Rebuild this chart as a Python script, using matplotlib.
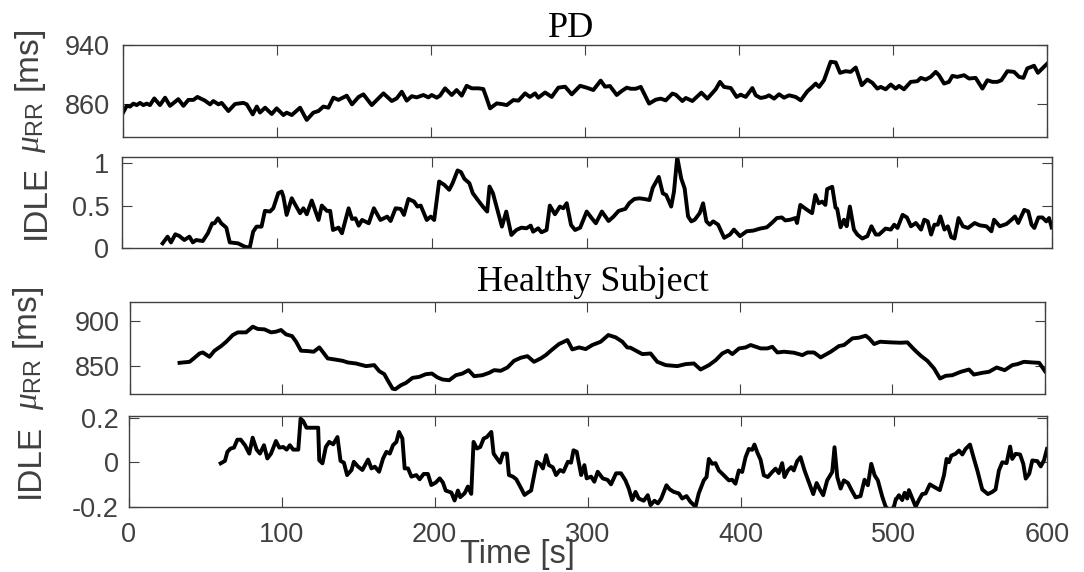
import matplotlib
matplotlib.use('Agg')
import matplotlib.pyplot as plt

plt.rcParams['font.family'] = ['Liberation Sans', 'DejaVu Sans']
plt.rcParams['axes.unicode_minus'] = False
plt.rcParams['mathtext.fontset'] = 'custom'
plt.rcParams['mathtext.rm'] = 'Liberation Sans'
plt.rcParams['mathtext.it'] = 'Liberation Serif:italic'

# PD subject, mean RR [ms]
t_pd_rr = [0, 2.6, 4.8, 6.9, 9.1, 11.2, 13.4, 15.6, 17.7, 20.5,
           24.2, 27.5, 30.7, 36.1, 39.4, 42.6, 45.9, 48.5, 53.4, 56.7,
           58.8, 62.1, 64.2, 68.6, 72.9, 78.3, 80.5, 84.4, 87, 89.1,
           92.4, 96.7, 99.9, 104.3, 106.4, 109.7, 115.1, 119.4, 123.7, 127,
           130.2, 133.5, 136.7, 140, 145.4, 148.8, 153.1, 156.2, 161.6, 165.9,
           169.2, 174.6, 177.8, 181.1, 184.3, 187.6, 190.8, 195.1, 198.4, 200.5,
           203.8, 205.9, 209.2, 213.5, 216.7, 220, 223.2, 226.5, 230.8, 234,
           236.2, 238.4, 242.7, 245.9, 249.2, 253.5, 256.8, 261.1, 264.3, 267.6,
           269.7, 274.1, 278.4, 282.7, 287.1, 291.4, 296.8, 301.1, 305.4, 310.2,
           313, 316.2, 320.6, 323.8, 327.1, 329.7, 332.9, 336.2, 341.6, 345.9,
           349.1, 352.4, 356.7, 358.9, 363.2, 365.4, 369.7, 375.5, 379.4, 384.8,
           387.6, 390.2, 394.6, 398.4, 401, 404.3, 408.6, 410.8, 414, 417.3,
           419.4, 422.7, 425.9, 429.2, 432.4, 436.7, 440, 444.3, 447.5, 449.7,
           451.9, 455.1, 459.4, 462.7, 465.5, 469.2, 472.4, 475.7, 479.6, 483.2,
           486.5, 489.7, 491.9, 495.1, 498.4, 501.6, 503.8, 507, 511.4, 515.7,
           517.9, 521.1, 524.3, 527.6, 529.7, 533, 536.2, 538.4, 541.6, 546,
           549.2, 553.5, 557.9, 561.1, 564.4, 567.6, 570.2, 574.1, 578.4, 581.7,
           584.5, 587, 591.4, 593.9, 596.8, 600]
pd_rr = [847.9, 858, 857, 861, 859, 862, 859, 861, 859, 868,
         859, 869, 858, 867, 858, 866, 866, 870, 865, 860,
         864.5, 860, 862, 851, 860.5, 862, 860, 846.5, 857, 849,
         855.5, 847, 854.6, 845.6, 848.8, 845.6, 855.5, 839, 848.8, 851,
         857, 855.5, 869, 866, 871.7, 860, 870, 873.5, 859, 868,
         874.8, 864.5, 868, 877, 865, 871, 869.4, 872.6, 869.4, 872.6,
         869, 871.7, 881.6, 872.6, 879.3, 871.7, 885, 881.6, 881.6, 880.7,
         868, 854.6, 861.3, 860.4, 859, 865.8, 865, 874.8, 870, 874.8,
         869, 876, 870, 882.5, 883.8, 873.5, 885, 882.5, 879.3, 892,
         883.8, 884.7, 872.6, 878, 882.5, 881, 881, 883.5, 861, 866.3,
         867.7, 865.4, 874.5, 873, 864.5, 868.6, 864.5, 875.8, 867.7, 880.3,
         890.3, 883.5, 882, 870, 873, 870, 882, 872.2, 868.6, 870,
         872.2, 867.7, 873.6, 869, 872.2, 870, 865.4, 877.6, 883.5, 888,
         883.5, 892.5, 917.4, 916.5, 902.5, 904.7, 903.8, 909.7, 885.8, 893.4,
         889, 881.2, 883.5, 880.3, 886.7, 881.2, 884.9, 880.3, 890.3, 891.2,
         895.7, 893.4, 897, 903.8, 899.3, 888, 890.3, 898.4, 897, 899.3,
         894.8, 895.7, 881.2, 892.5, 890.3, 890.3, 892.5, 904.7, 903.8, 897,
         895.7, 908.4, 912, 902.5, 908.4, 915]

# PD subject, IDLE
t_pd_idle = [26.4, 29.6, 31.8, 34.6, 37.2, 40.4, 43.7, 45.9, 48, 52.3,
             55.6, 58.4, 59.9, 62.1, 64.2, 67.5, 69.7, 75, 79.4, 82.6,
             84.8, 87, 90.2, 92.4, 95.6, 97.8, 101, 103.2, 104.3, 106.4,
             109.7, 111.8, 115.1, 117.2, 119.4, 122.6, 127, 129.1, 132.4, 134.5,
             136.3, 139.9, 142.1, 146.4, 148.6, 150.8, 152.9, 155.1, 159.4, 162.7,
             166.9, 171.3, 173.5, 176.7, 180, 182.1, 185, 188.6, 190.8, 192.9,
             196.8, 199.4, 201.6, 204.8, 208.1, 211.3, 213.5, 216.7, 218.9, 221.1,
             224.3, 226.5, 229.7, 233, 235.8, 237.3, 239.5, 242.7, 245.3, 248.1,
             251.4, 254.6, 257.9, 261.1, 263.9, 265.4, 268.7, 270.8, 274.1, 276.2,
             279.5, 282.7, 284.9, 287.1, 289.9, 292.5, 295.8, 300, 303.3, 305.9,
             309.8, 314.1, 317.3, 320.6, 324.9, 327.5, 330.7, 334, 337.2, 340.5,
             342.6, 346.5, 349.1, 351.3, 354.5, 356.3, 358.4, 361, 363.2, 365.4,
             367.5, 369.7, 372.9, 375.1, 377.2, 379.4, 381.6, 384.8, 388.7, 392.4,
             395, 398.9, 403.2, 407.5, 411.9, 416.2, 419.4, 422.7, 425.9, 428.1,
             431.3, 434.6, 435.7, 437.8, 442.2, 445.4, 447.5, 449.7, 451.9, 454,
             455.1, 458.4, 460.5, 461.6, 463.8, 466, 467.7, 469.8, 472.4, 474.6,
             477.8, 481.1, 483.7, 486.5, 488.6, 492.8, 496.2, 498.4, 500.5, 503.8,
             506.6, 509.2, 512.4, 515.7, 517.8, 520, 522.2, 524.3, 526.5, 528.2,
             530.8, 533, 535.2, 537.3, 539.9, 542.7, 546, 550.3, 553.5, 557.9,
             561.1, 562.8, 566.5, 570.8, 574.1, 576.3, 578.4, 582.3, 584.9, 587,
             588.8, 591.4, 594, 596.5, 598.3, 600]
pd_idle = [0.052, 0.131, 0.063, 0.159, 0.139, 0.091, 0.131, 0.063, 0.091, 0.079,
           0.171, 0.29, 0.29, 0.349, 0.29, 0.238, 0.063, 0.052, 0.012, 0.0,
           0.19, 0.25, 0.25, 0.437, 0.429, 0.468, 0.647, 0.667, 0.607, 0.389,
           0.587, 0.516, 0.409, 0.468, 0.397, 0.56, 0.329, 0.5, 0.437, 0.437,
           0.21, 0.238, 0.171, 0.468, 0.341, 0.349, 0.262, 0.329, 0.29, 0.468,
           0.329, 0.369, 0.317, 0.468, 0.46, 0.389, 0.579, 0.548, 0.488, 0.5,
           0.329, 0.369, 0.329, 0.786, 0.746, 0.687, 0.766, 0.917, 0.897, 0.817,
           0.766, 0.647, 0.567, 0.488, 0.429, 0.726, 0.647, 0.429, 0.25, 0.429,
           0.151, 0.21, 0.238, 0.23, 0.262, 0.19, 0.23, 0.183, 0.21, 0.5,
           0.397, 0.488, 0.468, 0.528, 0.27, 0.21, 0.238, 0.429, 0.349, 0.29,
           0.429, 0.317, 0.369, 0.437, 0.46, 0.53, 0.578, 0.586, 0.578, 0.566,
           0.711, 0.84, 0.645, 0.625, 0.488, 0.664, 1.074, 0.82, 0.703, 0.371,
           0.3125, 0.332, 0.41, 0.527, 0.3125, 0.273, 0.3125, 0.273, 0.117, 0.156,
           0.215, 0.137, 0.195, 0.203, 0.227, 0.242, 0.293, 0.352, 0.359, 0.324,
           0.332, 0.352, 0.293, 0.508, 0.449, 0.41, 0.625, 0.527, 0.547, 0.508,
           0.695, 0.723, 0.477, 0.461, 0.242, 0.332, 0.254, 0.488, 0.215, 0.156,
           0.109, 0.137, 0.254, 0.156, 0.156, 0.227, 0.215, 0.273, 0.234, 0.39,
           0.359, 0.254, 0.293, 0.215, 0.332, 0.3125, 0.156, 0.273, 0.273, 0.371,
           0.215, 0.254, 0.125, 0.109, 0.352, 0.254, 0.234, 0.293, 0.266, 0.254,
           0.195, 0.332, 0.254, 0.281, 0.332, 0.371, 0.293, 0.449, 0.43, 0.273,
           0.234, 0.359, 0.359, 0.3125, 0.352, 0.24]

# Healthy subject, mean RR [ms]
t_hs_rr = [32.8, 39.4, 42.6, 45.9, 48.1, 52.4, 55.7, 60.1, 63.4, 67.7,
           71, 76.4, 80.8, 84.1, 88.4, 92.8, 96.1, 99.3, 102.6, 106.5,
           109.2, 112.4, 116.8, 120.7, 124.4, 126.6, 129.9, 134.3, 139.7, 143,
           148.4, 155, 160.4, 163.7, 167, 169.2, 172.4, 174.2, 177.9, 181.2,
           185.5, 189.9, 194.2, 198.2, 201.9, 205.2, 209.5, 213.9, 218.2, 222.2,
           225.9, 231.3, 235.7, 239, 243.3, 247.7, 252, 256.4, 260.8, 265.1,
           269.5, 272.8, 277.1, 281.5, 287, 290.2, 294.6, 299, 303.3, 308.8,
           313.8, 318.6, 323, 326.2, 328.4, 336.1, 341.5, 345.9, 351.4, 359,
           364.5, 369.9, 374.3, 379.8, 384.2, 388.5, 392.2, 395.1, 399.5, 403.8,
           407.1, 413.7, 418, 421.3, 424.6, 429, 435.5, 441, 444.3, 448.6,
           453, 459.6, 465, 468.3, 473.8, 478.1, 482.5, 484.7, 488, 491.9,
           498.9, 505.5, 509.8, 514.2, 518.6, 522.9, 527.3, 531.2, 534.9, 539.3,
           544.8, 550.2, 553.4, 558.9, 563.3, 568.3, 573.6, 578.6, 581.9, 586.2,
           591.8, 596.2, 600]
hs_rr = [854, 855.1, 859.5, 864.2, 865.3, 860.6, 867.2, 872.3, 877, 884.3,
         887.2, 887.2, 893.4, 890.9, 890.5, 887.2, 888, 889.8, 885, 883.2,
         877, 867.2, 866.8, 866.1, 870.8, 866.1, 858.8, 857.7, 856.2, 854.4,
         853.3, 850.4, 851.5, 844.9, 841.6, 835, 825.9, 825.2, 829.6, 832.1,
         837.6, 838.7, 841.6, 842.3, 838, 835.8, 835, 840.5, 842.3, 846,
         839.4, 840.5, 843.1, 846, 845.3, 848.9, 856.2, 859.5, 861.3, 855.1,
         858.8, 862.4, 868.6, 874.5, 878.8, 868.6, 870.8, 869, 873.4, 877,
         884.3, 881.8, 877, 870.8, 870.4, 863.5, 864.2, 855.1, 851.5, 850.4,
         852.6, 853.3, 846.7, 851.5, 856.9, 864.2, 867.2, 863.5, 869.7, 870.8,
         873.4, 869.7, 869.7, 871.5, 865.3, 866.1, 865, 862.4, 865.3, 865.3,
         859.9, 866.1, 872.3, 873.4, 880.7, 881.4, 883.6, 880.7, 874.5, 877,
         876.3, 875.9, 876.3, 868.6, 861.7, 856.2, 847.8, 836.9, 839.8, 840.5,
         844.2, 846.7, 841.2, 843.1, 844.2, 848.9, 846, 851.5, 852.6, 855.1,
         854.4, 854, 844.9]

# Healthy subject, IDLE
t_hs_idle = [60.2, 63, 64.6, 66.7, 68.9, 71.1, 73.3, 76.1, 78.9, 81.1,
             83.7, 85.9, 88.5, 90.7, 93.1, 96.3, 98.5, 101.1, 103.3, 105.4,
             107.6, 110.9, 112.4, 114.1, 116.3, 120.7, 123.9, 124.6, 126.7, 128.9,
             131.1, 133.7, 136.5, 138.5, 140.7, 142.8, 145.7, 147.2, 150, 152.8,
             156.5, 158.7, 160.9, 163.7, 166.3, 168.5, 170.7, 172.8, 175, 176.7,
             178.9, 180.4, 182.6, 184.8, 188, 190.2, 192.8, 195.6, 197.8, 200.7,
             203.3, 205.4, 207.2, 210.9, 213, 215.2, 216.7, 219.6, 221.7, 223.9,
             225.4, 227.6, 229.8, 232, 234.1, 237, 238.5, 240.7, 242.8, 244.6,
             247.2, 248.5, 251.1, 253.3, 256.5, 258.7, 260.9, 263, 266.7, 268.9,
             270.7, 272.8, 274.6, 277.2, 279.3, 281.9, 284.1, 287, 289.1, 290.7,
             292.8, 295.7, 297.8, 299.3, 302.2, 304.3, 306.5, 309.8, 313, 315.2,
             318.5, 321.7, 324.6, 326.8, 329, 331.2, 333.3, 336.6, 339.2, 341,
             343.6, 345.8, 348, 351.4, 353.6, 356.2, 359.5, 361.7, 364.5, 367.1,
             370.4, 372.5, 375.8, 377.6, 379.1, 381.3, 383.4, 385.6, 388.9, 392.2,
             394.3, 396.5, 398.7, 400.9, 403.1, 405.2, 407.4, 408.9, 410.7, 412.9,
             415, 417.6, 420.5, 422.7, 424.8, 427, 428.5, 430.7, 432.9, 434.6,
             436.8, 439, 441.6, 444.4, 447.3, 449.5, 451.6, 453.8, 456.4, 459.7,
             461.2, 463, 465.2, 467.3, 470, 472.1, 475, 478.2, 480.8, 483,
             485.2, 487.4, 489.5, 492.4, 494.6, 497.5, 500, 501.1, 503.3, 505.4,
             507, 508.7, 509.8, 512, 514.2, 516.3, 518.5, 520.7, 523.5, 526.1,
             530, 532.7, 534.4, 535.9, 537.5, 540.3, 542.5, 544.7, 546.8, 549.7,
             552.3, 554.5, 557.7, 561.4, 564.3, 566.4, 568.6, 570.8, 573.6, 575.9,
             577.3, 579.5, 582.4, 584.5, 586.1, 588.4, 590.4, 593.7, 595.9, 598,
             600]
hs_idle = [-0.004, 0.007, 0.048, 0.063, 0.067, 0.103, 0.103, 0.078, 0.04, 0.112,
           0.058, 0.04, 0.078, 0.018, 0.04, 0.097, 0.067, 0.07, 0.058, 0.078,
           0.058, 0.058, 0.198, 0.187, 0.157, 0.157, 0.157, 0.01, -0.004, 0.07,
           0.093, 0.082, 0.115, 0.007, -0.001, -0.057, -0.034, 0.003, -0.019, -0.034,
           0.013, -0.027, -0.019, -0.042, 0.018, 0.048, 0.04, 0.078, 0.093, 0.138,
           0.108, -0.027, -0.027, -0.064, -0.057, -0.076, -0.052, -0.052, -0.102, -0.091,
           -0.072, -0.091, -0.127, -0.136, -0.172, -0.127, -0.157, -0.139, -0.109, -0.142,
           0.093, 0.063, 0.07, 0.108, 0.115, 0.138, 0.04, 0.018, -0.001, 0.04,
           0.04, -0.057, -0.064, -0.076, -0.117, -0.147, -0.136, -0.127, 0.003, -0.007,
           -0.027, 0.033, -0.012, -0.022, -0.057, -0.034, -0.042, 0.003, -0.001, 0.055,
           0.048, -0.057, -0.012, -0.072, -0.064, -0.087, -0.042, -0.072, -0.079, -0.099,
           -0.049, -0.049, -0.081, -0.118, -0.17, -0.133, -0.163, -0.173, -0.148, -0.193,
           -0.173, -0.185, -0.163, -0.103, -0.122, -0.133, -0.14, -0.163, -0.152, -0.178,
           -0.2, -0.14, -0.081, -0.066, 0.016, -0.006, -0.003, -0.036, -0.058, -0.081,
           -0.078, -0.096, -0.036, -0.043, 0.024, 0.061, 0.057, 0.081, 0.046, 0.012,
           -0.058, -0.066, -0.043, -0.028, -0.048, -0.003, -0.066, -0.036, -0.021, -0.036,
           0.006, 0.024, -0.036, -0.088, -0.143, -0.093, -0.122, -0.148, -0.081, -0.043,
           0.069, -0.066, -0.118, -0.081, -0.093, -0.122, -0.158, -0.152, -0.078, -0.103,
           -0.006, -0.058, -0.081, -0.155, -0.2, -0.22, -0.2, -0.17, -0.148, -0.17,
           -0.137, -0.163, -0.125, -0.163, -0.2, -0.17, -0.143, -0.14, -0.099, -0.11,
           -0.125, -0.058, 0.016, 0.001, 0.031, 0.039, 0.054, 0.036, 0.061, 0.081,
           0.016, -0.036, -0.122, -0.143, -0.133, -0.122, -0.036, 0.001, -0.003, 0.072,
           0.016, 0.039, 0.036, -0.006, -0.073, -0.051, 0.009, 0.006, -0.018, 0.009,
           0.061]

x_ticks = [0, 100, 200, 300, 400, 500, 600]
gray = '#404040'

W, H = 1084, 572
fig = plt.figure(figsize=(W / 100, H / 100), dpi=100)

# axes boxes in pixels: left, top, right, bottom
boxes = [(122.7, 45, 1047.3, 137),
         (121.7, 156.7, 1051.7, 247.7),
         (129.5, 302.3, 1045, 394),
         (128.5, 416, 1047, 506.7)]
axs = []
for (l, t, r, b) in boxes:
    axs.append(fig.add_axes([l / W, (H - b) / H, (r - l) / W, (b - t) / H]))
ax1, ax2, ax3, ax4 = axs

ax1.plot(t_pd_rr, pd_rr, color='black', lw=2.8)
ax2.plot(t_pd_idle, pd_idle, color='black', lw=2.8)
ax3.plot(t_hs_rr, hs_rr, color='black', lw=2.8)
ax4.plot(t_hs_idle, hs_idle, color='black', lw=2.8)

ax1.set_ylim(816, 940)
ax1.set_yticks([860, 940])
ax2.set_ylim(0, 1.08)
ax2.set_yticks([0, 0.5, 1])
ax2.set_yticklabels(['0', '0.5', '1'])
ax3.set_ylim(820, 920)
ax3.set_yticks([850, 900])
ax4.set_ylim(-0.2, 0.21)
ax4.set_yticks([-0.2, 0, 0.2])
ax4.set_yticklabels(['-0.2', '0', '0.2'])

pads = [9, 9, 7, 7]
for ax, p in zip(axs, pads):
    ax.set_xlim(0, 600)
    ax.set_xticks(x_ticks)
    ax.tick_params(direction='in', top=True, right=True, length=7, width=0.8,
                   color=gray, labelcolor=gray, labelsize=19.5)
    ax.tick_params(axis='y', pad=p)
    ax.tick_params(axis='x', pad=11)
    for s in ax.spines.values():
        s.set_color(gray)
        s.set_linewidth(1.0)
    if ax is not ax4:
        ax.set_xticklabels([])

rr_label = r'$\mu_{\mathrm{RR}}$ [ms]'
ax1.set_ylabel(rr_label, fontsize=24, color=gray, va='center')
ax1.yaxis.set_label_coords(-0.1, 0.5)
ax2.set_ylabel('IDLE', fontsize=24, color=gray, va='center')
ax2.yaxis.set_label_coords(-0.0915, 0.5)
ax3.set_ylabel(rr_label, fontsize=24, color=gray, va='center')
ax3.yaxis.set_label_coords(-0.11, 0.5)
ax4.set_ylabel('IDLE', fontsize=24, color=gray, va='center')
ax4.yaxis.set_label_coords(-0.107, 0.5)

ax1.set_title('PD', fontfamily='Liberation Serif', fontsize=26, x=0.485, pad=5)
ax3.set_title('Healthy Subject', fontfamily='Liberation Serif', fontsize=26, x=0.506, pad=8)

fig.text(517 / W, 9 / H, 'Time [s]', ha='center', va='baseline', fontsize=23.5, color=gray)

plt.savefig('out.png', dpi=100)
